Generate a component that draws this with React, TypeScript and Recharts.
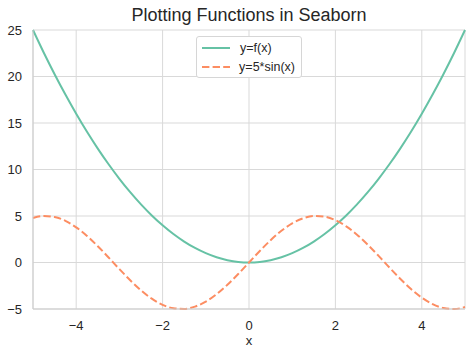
import { LineChart, Line, XAxis, YAxis, CartesianGrid } from 'recharts';

const xs = [
  -5, -4.75, -4.5, -4.25, -4, -3.75, -3.5, -3.25, -3, -2.75, -2.5, -2.25, -2, -1.75, -1.5, -1.25, -1, -0.75, -0.5, -0.25,
  0, 0.25, 0.5, 0.75, 1, 1.25, 1.5, 1.75, 2, 2.25, 2.5, 2.75, 3, 3.25, 3.5, 3.75, 4, 4.25, 4.5, 4.75, 5,
];
const fValues = [
  25, 22.56, 20.25, 18.06, 16, 14.06, 12.25, 10.56, 9, 7.56, 6.25, 5.06, 4, 3.06, 2.25, 1.56, 1, 0.56, 0.25, 0.06,
  0, 0.06, 0.25, 0.56, 1, 1.56, 2.25, 3.06, 4, 5.06, 6.25, 7.56, 9, 10.56, 12.25, 14.06, 16, 18.06, 20.25, 22.56, 25,
];
const sinValues = [
  4.79, 5.0, 4.89, 4.48, 3.78, 2.86, 1.75, 0.54, -0.71, -1.91, -2.99, -3.89, -4.55, -4.92, -4.99, -4.74, -4.21, -3.41, -2.4, -1.24,
  0, 1.24, 2.4, 3.41, 4.21, 4.74, 4.99, 4.92, 4.55, 3.89, 2.99, 1.91, 0.71, -0.54, -1.75, -2.86, -3.78, -4.48, -4.89, -5.0, -4.79,
];
const xTicks = [-4, -2, 0, 2, 4];
const yTicks = [-5, 0, 5, 10, 15, 20, 25];

const data = xs.map((x, i) => ({ x, f: fValues[i], s: sinValues[i] }));

const GREEN = '#66c2a5';
const ORANGE = '#fc8d62';
const FONT = '"Liberation Sans", Arial, sans-serif';
const fmt = (v: number) => String(v).replace('-', '\u2212');

function LegendBox() {
  const row = (dash: string | undefined, color: string, label: string) => (
    <div style={{ display: 'flex', alignItems: 'center', height: 19 }}>
      <svg width={30} height={10} style={{ marginRight: 9 }}>
        <line x1={1} y1={5} x2={29} y2={5} stroke={color} strokeWidth={2} strokeDasharray={dash} />
      </svg>
      <span>{label}</span>
    </div>
  );
  return (
    <div
      style={{
        position: 'absolute',
        top: 36,
        left: 196,
        border: '1px solid #d6d6d6',
        borderRadius: 3,
        background: '#fff',
        padding: '1px 6px 1px 4px',
        width: 94,
        fontSize: 12.5,
        color: '#262626',
        fontFamily: FONT,
      }}
    >
      {row(undefined, GREEN, 'y=f(x)')}
      {row('7.4 3.2', ORANGE, 'y=5*sin(x)')}
    </div>
  );
}

export default function App() {
  return (
    <div style={{ position: 'absolute', left: 0, top: 0, width: 474, height: 357, background: '#fff', fontFamily: FONT }}>
      <LineChart width={474} height={357} data={data} margin={{ top: 30, right: 9, left: 5, bottom: 0 }}>
        <CartesianGrid stroke="#d9d9d9" strokeWidth={1} />
        <XAxis
          dataKey="x"
          type="number"
          domain={[-5, 5]}
          ticks={xTicks}
          tickFormatter={fmt}
          height={48}
          axisLine={{ stroke: '#cccccc' }}
          tickLine={false}
          tickMargin={6}
          tick={{ fill: '#262626', fontSize: 13, fontFamily: FONT }}
          label={{ value: 'x', position: 'insideBottom', offset: 12, fill: '#262626', fontSize: 13, fontFamily: FONT }}
        />
        <YAxis
          type="number"
          domain={[-5, 25]}
          ticks={yTicks}
          tickFormatter={fmt}
          width={28}
          axisLine={{ stroke: '#cccccc' }}
          tickLine={false}
          tickMargin={5}
          tick={{ fill: '#262626', fontSize: 13, fontFamily: FONT }}
        />
        <Line type="monotone" dataKey="f" name="y=f(x)" stroke={GREEN} strokeWidth={2} dot={false} isAnimationActive={false} />
        <Line
          type="monotone"
          dataKey="s"
          name="y=5*sin(x)"
          stroke={ORANGE}
          strokeWidth={2}
          strokeDasharray="7.4 3.2"
          dot={false}
          isAnimationActive={false}
        />
      </LineChart>
      <div
        style={{
          position: 'absolute',
          top: 5,
          left: 33,
          width: 432,
          textAlign: 'center',
          fontSize: 18,
          color: '#262626',
        }}
      >
        Plotting Functions in Seaborn
      </div>
      <LegendBox />
    </div>
  );
}
